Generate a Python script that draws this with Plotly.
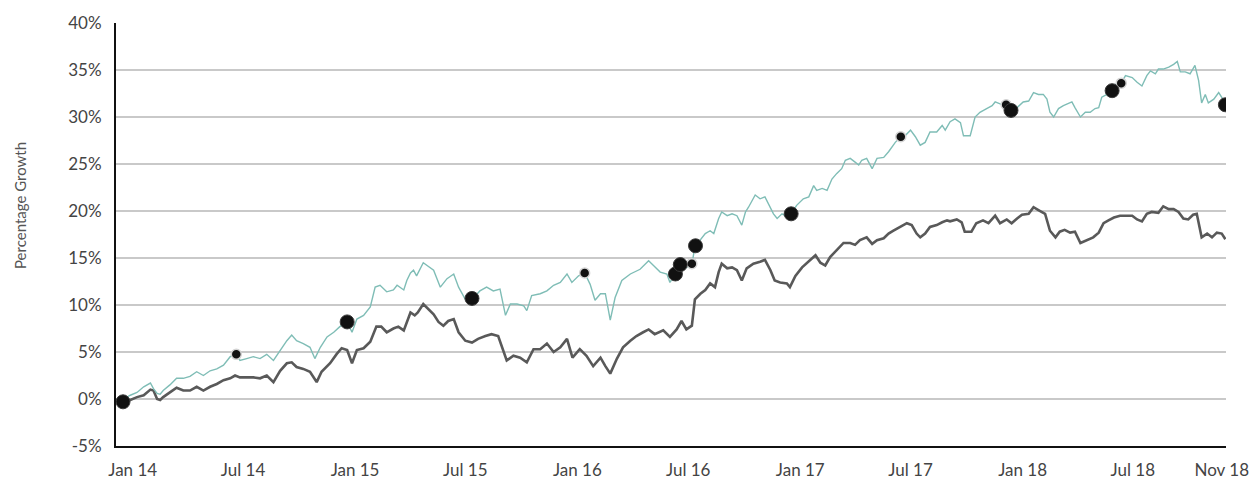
import plotly.graph_objects as go

# ---------------- data ----------------
teal_dates = [
    "2013-12-06", "2013-12-17", "2013-12-28", "2014-01-08", "2014-01-19", "2014-01-30", "2014-02-04",
    "2014-02-10", "2014-02-15", "2014-02-20", "2014-03-03", "2014-03-14", "2014-03-25", "2014-04-05",
    "2014-04-16", "2014-04-27", "2014-05-08", "2014-05-19", "2014-05-30", "2014-06-10", "2014-06-20",
    "2014-06-26", "2014-07-07", "2014-07-18", "2014-07-29", "2014-08-09", "2014-08-20", "2014-08-31",
    "2014-09-11", "2014-09-19", "2014-09-27", "2014-10-08", "2014-10-19", "2014-10-27", "2014-11-05",
    "2014-11-16", "2014-11-27", "2014-12-07", "2014-12-19", "2014-12-27", "2015-01-04", "2015-01-15",
    "2015-01-26", "2015-02-03", "2015-02-11", "2015-02-22", "2015-03-05", "2015-03-11", "2015-03-22",
    "2015-03-27", "2015-04-02", "2015-04-07", "2015-04-12", "2015-04-23", "2015-04-29", "2015-05-10",
    "2015-05-21", "2015-06-01", "2015-06-12", "2015-06-20", "2015-07-01", "2015-07-12", "2015-07-25",
    "2015-08-05", "2015-08-16", "2015-08-27", "2015-09-05", "2015-09-13", "2015-09-24", "2015-10-05",
    "2015-10-10", "2015-10-18", "2015-11-01", "2015-11-12", "2015-11-23", "2015-12-04", "2015-12-15",
    "2015-12-23", "2016-01-03", "2016-01-13", "2016-01-22", "2016-01-30", "2016-02-08", "2016-02-16",
    "2016-02-24", "2016-03-03", "2016-03-14", "2016-03-28", "2016-04-13", "2016-04-27", "2016-05-05",
    "2016-05-16", "2016-05-27", "2016-06-01", "2016-06-10", "2016-06-18", "2016-06-28", "2016-07-07",
    "2016-07-12", "2016-07-21", "2016-07-29", "2016-08-06", "2016-08-12", "2016-08-20", "2016-08-25",
    "2016-09-03", "2016-09-11", "2016-09-19", "2016-09-27", "2016-10-03", "2016-10-08", "2016-10-19",
    "2016-10-27", "2016-11-04", "2016-11-13", "2016-11-18", "2016-11-24", "2016-12-02", "2016-12-10",
    "2016-12-17", "2016-12-26", "2017-01-06", "2017-01-15", "2017-01-23", "2017-01-28", "2017-02-06",
    "2017-02-14", "2017-02-22", "2017-03-02", "2017-03-10", "2017-03-16", "2017-03-24", "2017-04-01",
    "2017-04-07", "2017-04-12", "2017-04-20", "2017-04-29", "2017-05-07", "2017-05-18", "2017-05-26",
    "2017-06-06", "2017-06-15", "2017-06-22", "2017-07-01", "2017-07-09", "2017-07-17", "2017-07-25",
    "2017-08-02", "2017-08-13", "2017-08-22", "2017-08-27", "2017-09-04", "2017-09-12", "2017-09-21",
    "2017-09-26", "2017-10-07", "2017-10-15", "2017-10-23", "2017-11-03", "2017-11-12", "2017-11-17",
    "2017-11-25", "2017-12-03", "2017-12-13", "2017-12-23", "2018-01-02", "2018-01-11", "2018-01-19",
    "2018-01-27", "2018-02-04", "2018-02-10", "2018-02-15", "2018-02-21", "2018-03-01", "2018-03-09",
    "2018-03-17", "2018-03-23", "2018-03-28", "2018-04-06", "2018-04-14", "2018-04-22", "2018-04-30",
    "2018-05-06", "2018-05-11", "2018-05-20", "2018-05-28", "2018-06-05", "2018-06-12", "2018-06-19",
    "2018-06-30", "2018-07-08", "2018-07-16", "2018-07-24", "2018-07-30", "2018-08-07", "2018-08-12",
    "2018-08-20", "2018-08-29", "2018-09-06", "2018-09-12", "2018-09-17", "2018-09-25", "2018-10-03",
    "2018-10-11", "2018-10-17", "2018-10-22", "2018-10-28", "2018-11-02", "2018-11-11", "2018-11-19",
    "2018-11-24", "2018-11-30",
]
teal_values = [
    0.0, 0.0, 0.4, 0.7, 1.3, 1.7, 1.1,
    0.6, 0.5, 0.9, 1.5, 2.2, 2.2, 2.4,
    2.9, 2.5, 3.0, 3.2, 3.6, 4.5, 4.75,
    4.1, 4.3, 4.5, 4.3, 4.75, 4.1, 5.2,
    6.2, 6.8, 6.2, 5.9, 5.5, 4.3, 5.5,
    6.6, 7.1, 7.7, 8.2, 7.1, 8.5, 8.9,
    9.8, 11.9, 12.1, 11.4, 11.6, 12.1, 11.6,
    12.6, 13.4, 13.7, 13.1, 14.5, 14.2, 13.7,
    11.9, 12.8, 13.3, 11.9, 10.6, 10.6, 11.5,
    11.9, 11.5, 11.7, 8.9, 10.1, 10.1, 9.9,
    9.4, 11.0, 11.2, 11.5, 12.1, 12.4, 13.3,
    12.4, 13.1, 13.4, 12.2, 10.5, 11.2, 11.2,
    8.4, 10.8, 12.6, 13.3, 13.8, 14.7, 14.2,
    13.5, 13.3, 12.4, 13.3, 14.3, 14.0, 14.3,
    16.2, 17.0, 17.6, 17.9, 17.6, 19.2, 19.9,
    19.5, 19.7, 19.5, 18.5, 19.9, 20.4, 21.7,
    21.3, 21.5, 20.4, 19.7, 19.2, 19.7, 19.4,
    19.7, 20.6, 21.3, 21.5, 22.7, 22.2, 22.4,
    22.2, 23.4, 24.0, 24.5, 25.4, 25.6, 25.2,
    24.9, 25.4, 25.6, 24.5, 25.6, 25.7, 26.3,
    27.3, 27.9, 28.0, 28.6, 27.9, 27.0, 27.3,
    28.4, 28.4, 29.1, 28.6, 29.5, 29.8, 29.4,
    28.0, 28.0, 30.0, 30.5, 30.9, 31.2, 31.6,
    31.4, 31.3, 30.7, 31.0, 31.6, 31.7, 32.6,
    32.4, 32.4, 31.9, 30.5, 30.0, 30.9, 31.2,
    31.4, 31.6, 31.0, 30.0, 30.5, 30.5, 30.9,
    31.0, 32.1, 32.4, 32.7, 33.7, 33.6, 34.4,
    34.2, 33.7, 33.3, 34.4, 34.9, 34.6, 35.1,
    35.1, 35.3, 35.6, 35.9, 34.8, 34.8, 34.6,
    35.5, 33.9, 31.5, 32.4, 31.5, 31.9, 32.6,
    32.1, 31.3,
]

grey_dates = [
    "2013-12-06", "2013-12-17", "2013-12-28", "2014-01-08", "2014-01-19", "2014-01-30", "2014-02-04",
    "2014-02-10", "2014-02-15", "2014-02-20", "2014-03-03", "2014-03-14", "2014-03-25", "2014-04-05",
    "2014-04-16", "2014-04-27", "2014-05-08", "2014-05-19", "2014-05-30", "2014-06-10", "2014-06-18",
    "2014-06-26", "2014-07-07", "2014-07-18", "2014-07-29", "2014-08-09", "2014-08-20", "2014-08-31",
    "2014-09-11", "2014-09-19", "2014-09-27", "2014-10-08", "2014-10-19", "2014-10-30", "2014-11-07",
    "2014-11-21", "2014-12-02", "2014-12-10", "2014-12-19", "2014-12-27", "2015-01-04", "2015-01-15",
    "2015-01-26", "2015-02-05", "2015-02-13", "2015-02-22", "2015-03-05", "2015-03-13", "2015-03-22",
    "2015-04-02", "2015-04-09", "2015-04-14", "2015-04-23", "2015-05-01", "2015-05-10", "2015-05-18",
    "2015-05-26", "2015-06-03", "2015-06-12", "2015-06-20", "2015-07-01", "2015-07-12", "2015-07-22",
    "2015-08-03", "2015-08-13", "2015-08-24", "2015-09-01", "2015-09-07", "2015-09-18", "2015-09-29",
    "2015-10-10", "2015-10-21", "2015-11-01", "2015-11-12", "2015-11-23", "2015-12-04", "2015-12-15",
    "2015-12-24", "2016-01-05", "2016-01-16", "2016-01-27", "2016-02-08", "2016-02-16", "2016-02-24",
    "2016-03-06", "2016-03-16", "2016-03-28", "2016-04-07", "2016-04-18", "2016-04-27", "2016-05-07",
    "2016-05-21", "2016-06-01", "2016-06-12", "2016-06-20", "2016-06-28", "2016-07-07", "2016-07-12",
    "2016-07-21", "2016-07-29", "2016-08-06", "2016-08-14", "2016-08-20", "2016-08-25", "2016-09-03",
    "2016-09-11", "2016-09-19", "2016-09-27", "2016-10-05", "2016-10-16", "2016-10-27", "2016-11-04",
    "2016-11-13", "2016-11-20", "2016-11-29", "2016-12-10", "2016-12-15", "2016-12-24", "2017-01-04",
    "2017-01-15", "2017-01-26", "2017-02-03", "2017-02-11", "2017-02-19", "2017-03-02", "2017-03-13",
    "2017-03-24", "2017-04-01", "2017-04-09", "2017-04-20", "2017-04-29", "2017-05-07", "2017-05-18",
    "2017-05-26", "2017-06-03", "2017-06-14", "2017-06-25", "2017-07-03", "2017-07-11", "2017-07-17",
    "2017-07-25", "2017-08-02", "2017-08-13", "2017-08-22", "2017-08-30", "2017-09-04", "2017-09-15",
    "2017-09-23", "2017-09-28", "2017-10-09", "2017-10-17", "2017-10-28", "2017-11-06", "2017-11-17",
    "2017-11-25", "2017-12-06", "2017-12-14", "2017-12-23", "2017-12-31", "2018-01-11", "2018-01-19",
    "2018-01-27", "2018-02-07", "2018-02-15", "2018-02-24", "2018-03-03", "2018-03-11", "2018-03-20",
    "2018-03-28", "2018-04-06", "2018-04-17", "2018-04-27", "2018-05-06", "2018-05-14", "2018-05-22",
    "2018-05-31", "2018-06-10", "2018-06-21", "2018-06-30", "2018-07-08", "2018-07-16", "2018-07-24",
    "2018-08-01", "2018-08-12", "2018-08-20", "2018-08-29", "2018-09-06", "2018-09-14", "2018-09-22",
    "2018-09-30", "2018-10-08", "2018-10-14", "2018-10-22", "2018-10-31", "2018-11-08", "2018-11-16",
    "2018-11-24", "2018-11-30",
]
grey_values = [
    0.0, -0.3, -0.1, 0.2, 0.4, 1.0, 0.9,
    0.0, -0.1, 0.2, 0.7, 1.2, 0.9, 0.9,
    1.3, 0.9, 1.3, 1.6, 2.0, 2.2, 2.5,
    2.3, 2.3, 2.3, 2.2, 2.5, 1.8, 3.0,
    3.8, 3.9, 3.4, 3.2, 2.9, 1.8, 2.9,
    3.8, 4.8, 5.4, 5.2, 3.8, 5.2, 5.4,
    6.1, 7.7, 7.7, 7.1, 7.5, 7.7, 7.3,
    9.2, 8.9, 9.2, 10.1, 9.6, 9.0, 8.2,
    7.8, 8.3, 8.5, 7.1, 6.2, 6.0, 6.4,
    6.7, 6.9, 6.7, 5.3, 4.1, 4.6, 4.4,
    3.9, 5.3, 5.3, 5.9, 5.0, 5.5, 6.4,
    4.4, 5.3, 4.6, 3.5, 4.4, 3.5, 2.7,
    4.3, 5.5, 6.2, 6.7, 7.1, 7.4, 6.9,
    7.3, 6.6, 7.4, 8.3, 7.4, 7.8, 10.6,
    11.2, 11.6, 12.3, 11.9, 13.5, 14.4, 13.9,
    14.0, 13.7, 12.6, 13.9, 14.4, 14.6, 14.8,
    13.7, 12.6, 12.4, 12.3, 11.9, 13.1, 14.0,
    14.6, 15.3, 14.5, 14.2, 15.1, 15.8, 16.6,
    16.6, 16.4, 16.9, 17.2, 16.5, 16.9, 17.1,
    17.6, 17.9, 18.3, 18.7, 18.5, 17.6, 17.2,
    17.6, 18.3, 18.5, 18.8, 19.0, 18.9, 19.1,
    18.8, 17.8, 17.8, 18.7, 19.0, 18.7, 19.5,
    18.7, 19.1, 18.7, 19.2, 19.6, 19.7, 20.4,
    20.1, 19.7, 17.9, 17.2, 17.8, 18.0, 17.7,
    17.8, 16.6, 16.9, 17.2, 17.7, 18.7, 19.0,
    19.3, 19.5, 19.5, 19.5, 19.1, 18.9, 19.7,
    19.9, 19.8, 20.5, 20.2, 20.2, 19.9, 19.2,
    19.1, 19.6, 19.7, 17.2, 17.6, 17.2, 17.7,
    17.6, 17.0,
]

# highlighted events on the teal series
large_event_dates = ["2013-12-16", "2014-12-19", "2015-07-12", "2016-06-10", "2016-06-18",
                     "2016-07-13", "2016-12-17", "2017-12-13", "2018-05-28", "2018-11-30"]
large_event_values = [-0.3, 8.2, 10.7, 13.3, 14.3, 16.3, 19.7, 30.7, 32.8, 31.3]
small_event_dates = ["2014-06-20", "2016-01-13", "2016-07-07", "2017-06-15", "2017-12-05", "2018-06-12"]
small_event_values = [4.75, 13.4, 14.4, 27.9, 31.3, 33.6]

x_tick_dates = ["2014-01-01", "2014-07-01", "2015-01-01", "2015-07-01", "2016-01-01", "2016-07-01",
                "2017-01-01", "2017-07-01", "2018-01-01", "2018-07-01", "2018-11-24"]
x_tick_labels = ["Jan 14", "Jul 14", "Jan 15", "Jul 15", "Jan 16", "Jul 16",
                 "Jan 17", "Jul 17", "Jan 18", "Jul 18", "Nov 18"]
y_tick_values = [-5, 0, 5, 10, 15, 20, 25, 30, 35, 40]
y_tick_labels = ["-5%", "0%", "5%", "10%", "15%", "20%", "25%", "30%", "35%", "40%"]
y_title = "Percentage Growth"

# ---------------- figure ----------------
FONT = "Lato, 'Open Sans', sans-serif"
fig = go.Figure()
fig.add_trace(go.Scatter(x=grey_dates, y=grey_values, mode="lines",
                         line=dict(color="#595959", width=2.6), showlegend=False))
fig.add_trace(go.Scatter(x=teal_dates, y=teal_values, mode="lines",
                         line=dict(color="#7fbdb6", width=1.4), showlegend=False))
fig.add_trace(go.Scatter(x=small_event_dates, y=small_event_values, mode="markers",
                         marker=dict(size=10, color="#111111", line=dict(color="#d4d4d4", width=1.5)),
                         showlegend=False))
fig.add_trace(go.Scatter(x=large_event_dates, y=large_event_values, mode="markers",
                         marker=dict(size=14, color="#111111", line=dict(color="#3a3a3a", width=1)),
                         showlegend=False))

fig.update_layout(
    width=1254, height=481,
    margin=dict(l=116, r=28, t=23, b=35),
    paper_bgcolor="white", plot_bgcolor="white",
    font=dict(family=FONT, color="#444444", size=17),
    xaxis=dict(
        type="date", range=["2013-12-04 12:00", "2018-12-01 00:00"],
        tickvals=x_tick_dates, ticktext=x_tick_labels,
        showgrid=False, zeroline=False, showline=True, linecolor="#111111", linewidth=2,
        ticks="", ticklabelstandoff=8, tickfont=dict(family=FONT, size=17, color="#444444"),
        automargin=False,
    ),
    yaxis=dict(
        range=[-5, 40], tickvals=y_tick_values, ticktext=y_tick_labels,
        showgrid=True, gridcolor="#c9c9c9", gridwidth=2, zeroline=False,
        showline=True, linecolor="#111111", linewidth=2,
        ticks="", ticklabelstandoff=9, tickfont=dict(family=FONT, size=17, color="#444444"),
        automargin=False,
    ),
    annotations=[dict(
        text=y_title, textangle=-90, showarrow=False,
        xref="paper", yref="paper", x=(20 - 116) / 1110, y=(446 - 206) / 423,
        xanchor="center", yanchor="middle",
        font=dict(family=FONT, size=15, color="#555555"),
    )],
)

# remove the browser's default page margin so the chart sits at the window's corner
fig.write_html("out.html",
               config={"displayModeBar": False},
               post_script="document.body.style.margin='0';document.body.style.overflow='hidden';")
